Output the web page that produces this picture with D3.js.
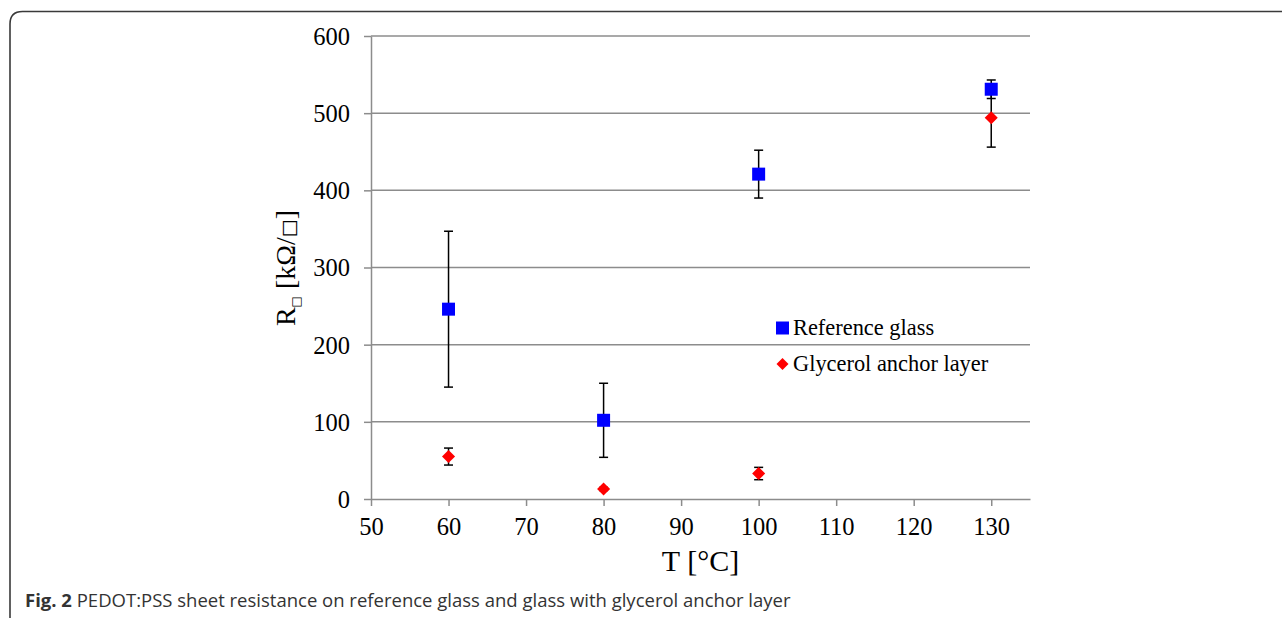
<!DOCTYPE html>
<html>
<head>
<meta charset="utf-8">
<script src="https://d3js.org/d3.v7.min.js"></script>
<style>
  body { margin: 0; background: #fff; }
  svg { display: block; }
</style>
</head>
<body>
<div id="chart"></div>
<script>
// data
var temps = [60, 80, 100, 130];
var refGlass = [246, 102, 421, 531];
var refGlassErr = [101, 48, 31, 12];
var glycerol = [55, 13, 33, 494];
var glycerolErr = [11, 2, 8, 38];
var xTicks = [50, 60, 70, 80, 90, 100, 110, 120, 130];
var yTicks = [0, 100, 200, 300, 400, 500, 600];

var W = 1282, H = 618;
var margin = {top: 36, right: 252, bottom: 119, left: 371},
    width = W - margin.left - margin.right,
    height = H - margin.top - margin.bottom;

var svg = d3.select("#chart")
  .append("svg")
    .attr("width", W)
    .attr("height", H);

// frame with rounded top-left corner
svg.append("path")
  .attr("d", "M10,620 L10,24 Q10,11.5 22.5,11.5 L1290,11.5")
  .attr("fill", "none")
  .attr("stroke", "#3a3a3a")
  .attr("stroke-width", 1.6);

var g = svg.append("g")
  .attr("transform", "translate(" + margin.left + "," + margin.top + ")");

var x = d3.scaleLinear().domain([50, 135]).range([0, width]);
var y = d3.scaleLinear().domain([0, 600]).range([height, 0]);

var serif = "'Liberation Serif', 'Times New Roman', serif";
var boxFont = "'DejaVu Sans', sans-serif";

// gridlines
g.selectAll(".grid")
  .data(yTicks.slice(1))
  .enter().append("line")
    .attr("x1", 0).attr("x2", width)
    .attr("y1", function(d) { return y(d); })
    .attr("y2", function(d) { return y(d); })
    .attr("stroke", "#8c8c8c")
    .attr("stroke-width", 1.5);

// axes
var xAxis = g.append("g")
  .attr("transform", "translate(0," + height + ")")
  .call(d3.axisBottom(x).tickValues(xTicks).tickSize(7).tickPadding(12).tickSizeOuter(0));
var yAxis = g.append("g")
  .call(d3.axisLeft(y).tickValues(yTicks).tickSize(7).tickPadding(14).tickSizeOuter(0));

[xAxis, yAxis].forEach(function(a) {
  a.select(".domain").attr("stroke", "#8c8c8c").attr("stroke-width", 1.5);
  a.selectAll(".tick line").attr("stroke", "#8c8c8c").attr("stroke-width", 1.5);
  a.selectAll(".tick text")
    .style("font-family", serif)
    .style("font-size", "24.5px")
    .attr("fill", "#000");
});
yAxis.selectAll(".tick text").attr("dy", "0.34em");

// axis titles
g.append("text")
  .attr("x", width / 2)
  .attr("y", 571 - margin.top)
  .attr("text-anchor", "middle")
  .style("font-family", serif)
  .style("font-size", "30px")
  .text("T [°C]");

var yTitle = g.append("text")
  .attr("transform", "translate(" + (295 - margin.left) + "," + (268 - margin.top) + ") rotate(-90)")
  .attr("text-anchor", "middle")
  .attr("fill", "#000")
  .style("font-family", serif)
  .style("font-size", "28px");
yTitle.append("tspan").text("R");
yTitle.append("tspan").attr("dy", 5).style("font-family", boxFont).style("font-size", "12px").text("□");
yTitle.append("tspan").attr("dy", -5).text(" [kΩ/");
yTitle.append("tspan").style("font-family", boxFont).style("font-size", "19px").text("□");
yTitle.append("tspan").text("]");

// error bars
function errorBars(vals, errs, cls) {
  var eg = g.selectAll("." + cls)
    .data(temps)
    .enter().append("g")
      .attr("class", cls)
      .attr("stroke", "#000")
      .attr("stroke-width", 1.5);
  eg.append("line")
    .attr("x1", function(d) { return x(d); })
    .attr("x2", function(d) { return x(d); })
    .attr("y1", function(d, i) { return y(vals[i] + errs[i]); })
    .attr("y2", function(d, i) { return y(vals[i] - errs[i]); });
  eg.append("line")
    .attr("x1", function(d) { return x(d) - 4.5; })
    .attr("x2", function(d) { return x(d) + 4.5; })
    .attr("y1", function(d, i) { return y(vals[i] + errs[i]); })
    .attr("y2", function(d, i) { return y(vals[i] + errs[i]); });
  eg.append("line")
    .attr("x1", function(d) { return x(d) - 4.5; })
    .attr("x2", function(d) { return x(d) + 4.5; })
    .attr("y1", function(d, i) { return y(vals[i] - errs[i]); })
    .attr("y2", function(d, i) { return y(vals[i] - errs[i]); });
}

errorBars(glycerol, glycerolErr, "errGly");
errorBars(refGlass, refGlassErr, "errRef");

// markers: square and diamond (square turned 45 degrees)
var sq = d3.symbol().type(d3.symbolSquare).size(169);
var dia = d3.symbol().type(d3.symbolSquare).size(85);

g.selectAll(".gly")
  .data(temps)
  .enter().append("path")
    .attr("class", "gly")
    .attr("d", dia)
    .attr("transform", function(d, i) { return "translate(" + x(d) + "," + y(glycerol[i]) + ") rotate(45)"; })
    .attr("fill", "#ff0000");

g.selectAll(".ref")
  .data(temps)
  .enter().append("path")
    .attr("class", "ref")
    .attr("d", sq)
    .attr("transform", function(d, i) { return "translate(" + x(d) + "," + y(refGlass[i]) + ")"; })
    .attr("fill", "#0000ff");

// legend
var legend = svg.append("g").attr("transform", "translate(782.5,328)");
legend.append("path").attr("d", d3.symbol().type(d3.symbolSquare).size(169)).attr("fill", "#0000ff");
legend.append("text").attr("x", 10.5).attr("y", 6.5)
  .style("font-family", serif).style("font-size", "22.4px").text("Reference glass");
legend.append("path").attr("d", d3.symbol().type(d3.symbolSquare).size(72))
  .attr("transform", "translate(0,36) rotate(45)").attr("fill", "#ff0000");
legend.append("text").attr("x", 10.5).attr("y", 43)
  .style("font-family", serif).style("font-size", "22.4px").text("Glycerol anchor layer");

// caption
var cap = svg.append("text")
  .attr("x", 25)
  .attr("y", 607)
  .style("font-family", "'Open Sans', 'Noto Sans', sans-serif")
  .style("font-size", "18.5px")
  .attr("fill", "#333");
cap.append("tspan").style("font-weight", "bold").text("Fig. 2");
cap.append("tspan").text(" PEDOT:PSS sheet resistance on reference glass and glass with glycerol anchor layer");
</script>
</body>
</html>
